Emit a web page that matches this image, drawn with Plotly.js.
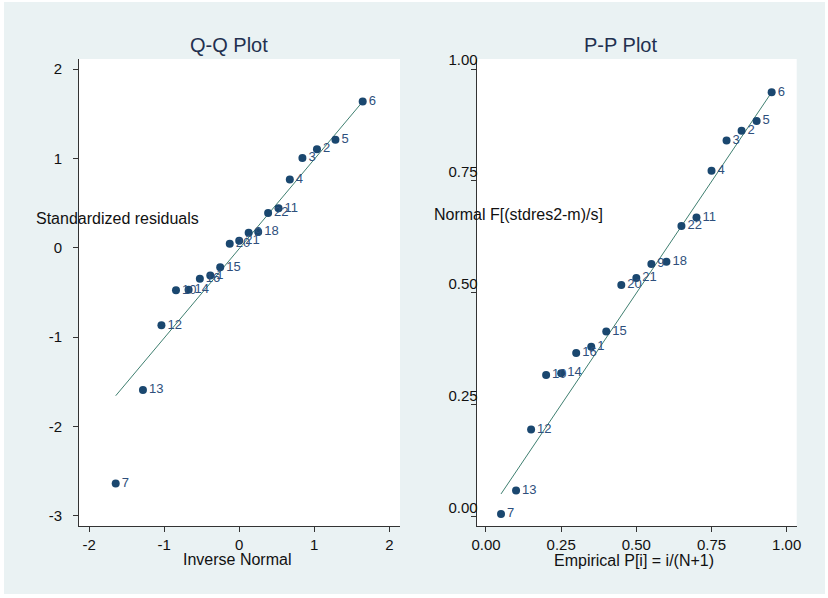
<!DOCTYPE html>
<html>
<head>
<meta charset="utf-8">
<script src="https://cdn.plot.ly/plotly-3.0.1.min.js"></script>
<style>
  html, body { margin: 0; padding: 0; background: #ffffff; }
  #chart { position: absolute; left: 4px; top: 2px; width: 821px; height: 592px; }
</style>
</head>
<body>
<div id="chart"></div>
<script>
// Observation ids (sorted by standardized residual)
const obsIds = ['7','13','12','10','14','16','1','15','20','21','9','18','22','11','4','3','2','5','6'];
// Q-Q plot: inverse normal quantiles and standardized residuals
const inverseNormal = [-1.645, -1.282, -1.036, -0.842, -0.674, -0.524, -0.385, -0.253, -0.126, 0, 0.126, 0.253, 0.385, 0.524, 0.674, 0.842, 1.036, 1.282, 1.645];
const stdResiduals = [-2.638, -1.594, -0.869, -0.477, -0.470, -0.347, -0.310, -0.220, 0.045, 0.078, 0.168, 0.176, 0.389, 0.441, 0.762, 1.004, 1.102, 1.209, 1.635];
// Q-Q reference line end points
const qqLineX = [-1.645, 1.645];
const qqLineY = [-1.657, 1.635];
// P-P plot: empirical P and normal F
const empiricalP = [0.05, 0.10, 0.15, 0.20, 0.25, 0.30, 0.35, 0.40, 0.45, 0.50, 0.55, 0.60, 0.65, 0.70, 0.75, 0.80, 0.85, 0.90, 0.95];
const normalF = [0.005, 0.0575, 0.194, 0.316, 0.320, 0.365, 0.379, 0.413, 0.517, 0.533, 0.564, 0.569, 0.649, 0.668, 0.7725, 0.840, 0.862, 0.884, 0.948];
const ppLineX = [0.05, 0.95];
const ppLineY = [0.05, 0.948];
// Tick values / labels
const qqXTicks = [-2, -1, 0, 1, 2];
const qqXTickText = ['-2', '-1', '0', '1', '2'];
const qqYTicks = [-3, -2, -1, 0, 1, 2];
const qqYTickText = ['-3', '-2', '-1', '0', '1', '2'];
const ppTicks = [0, 0.25, 0.5, 0.75, 1];
const ppTickText = ['0.00', '0.25', '0.50', '0.75', '1.00'];

const FONT = 'Liberation Sans, Arial, sans-serif';
const markerColor = '#1a476f';
const labelColor = '#2e4f7c';
const lineColor = '#3f7f70';
const axisColor = '#333333';

const traces = [
  { x: qqLineX, y: qqLineY, xaxis: 'x', yaxis: 'y', mode: 'lines', type: 'scatter',
    line: { color: lineColor, width: 1 }, hoverinfo: 'skip' },
  { x: inverseNormal, y: stdResiduals, text: obsIds, xaxis: 'x', yaxis: 'y', mode: 'markers+text', type: 'scatter',
    textposition: 'middle right', cliponaxis: false,
    textfont: { family: FONT, size: 13, color: labelColor },
    marker: { color: markerColor, size: 8 } },
  { x: ppLineX, y: ppLineY, xaxis: 'x2', yaxis: 'y2', mode: 'lines', type: 'scatter',
    line: { color: lineColor, width: 1 }, hoverinfo: 'skip' },
  { x: empiricalP, y: normalF, text: obsIds, xaxis: 'x2', yaxis: 'y2', mode: 'markers+text', type: 'scatter',
    textposition: 'middle right', cliponaxis: false,
    textfont: { family: FONT, size: 13, color: labelColor },
    marker: { color: markerColor, size: 8 } }
];

function axisBase() {
  return {
    showgrid: false, zeroline: false, showline: true, linecolor: axisColor, linewidth: 1,
    ticks: 'outside', ticklen: 5, tickwidth: 1, tickcolor: axisColor,
    tickfont: { family: FONT, size: 15, color: '#111111' }, fixedrange: true
  };
}

const layout = {
  width: 821, height: 592,
  margin: { l: 0, r: 0, t: 0, b: 0 },
  paper_bgcolor: '#eaf2f3',
  plot_bgcolor: '#ffffff',
  showlegend: false,
  font: { family: FONT },
  xaxis: Object.assign(axisBase(), { domain: [0.09135, 0.48234], range: [-2.134, 2.142],
    tickvals: qqXTicks, ticktext: qqXTickText, anchor: 'y', ticklabelstandoff: 0 }),
  yaxis: Object.assign(axisBase(), { domain: [0.11486, 0.90372], range: [-3.115, 2.112],
    tickvals: qqYTicks, ticktext: qqYTickText, anchor: 'x', ticklabelstandoff: 8 }),
  xaxis2: Object.assign(axisBase(), { domain: [0.57576, 0.96553], range: [-0.0309, 1.0333],
    tickvals: ppTicks, ticktext: ppTickText, anchor: 'y2', ticklabelstandoff: 0 }),
  yaxis2: Object.assign(axisBase(), { domain: [0.11486, 0.90372], range: [-0.0217, 1.0224],
    tickvals: ppTicks, ticktext: ppTickText, anchor: 'x2', ticklabelstandoff: -10, ticklabelshift: -9 }),
  annotations: [
    { text: 'Q-Q Plot', xref: 'paper', yref: 'paper', x: 0.2741, y: 0.9274, xanchor: 'center', yanchor: 'middle',
      showarrow: false, font: { family: FONT, size: 20, color: '#22304f' } },
    { text: 'P-P Plot', xref: 'paper', yref: 'paper', x: 0.7512, y: 0.9274, xanchor: 'center', yanchor: 'middle',
      showarrow: false, font: { family: FONT, size: 20, color: '#22304f' } },
    { text: 'Standardized residuals', xref: 'paper', yref: 'paper', x: 0.0365, y: 0.6351, xanchor: 'left', yanchor: 'middle',
      showarrow: false, font: { family: FONT, size: 16, color: '#111111' } },
    { text: 'Normal F[(stdres2-m)/s]', xref: 'paper', yref: 'paper', x: 0.5210, y: 0.6414, xanchor: 'left', yanchor: 'middle',
      showarrow: false, font: { family: FONT, size: 16, color: '#111111' } },
    { text: 'Inverse Normal', xref: 'paper', yref: 'paper', x: 0.2834, y: 0.0586, xanchor: 'center', yanchor: 'middle',
      showarrow: false, font: { family: FONT, size: 16, color: '#111111' } },
    { text: 'Empirical P[i] = i/(N+1)', xref: 'paper', yref: 'paper', x: 0.7674, y: 0.0574, xanchor: 'center', yanchor: 'middle',
      showarrow: false, font: { family: FONT, size: 16, color: '#111111' } }
  ]
};

Plotly.newPlot('chart', traces, layout, { displayModeBar: false, staticPlot: true });
</script>
</body>
</html>
